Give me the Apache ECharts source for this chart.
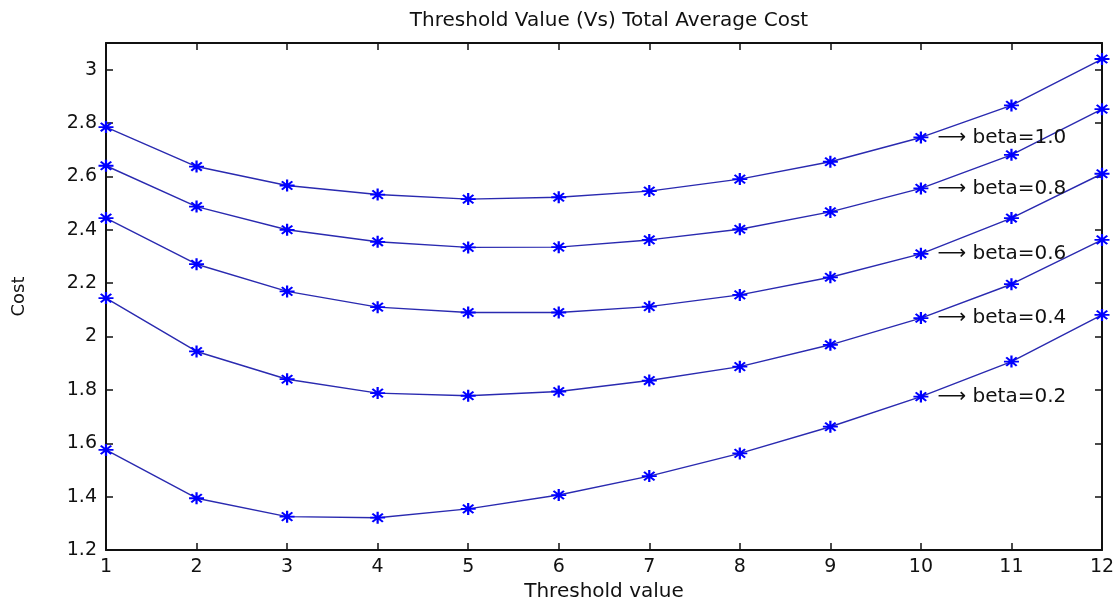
<!DOCTYPE html>
<html>
<head>
<meta charset="utf-8">
<script src="https://cdn.jsdelivr.net/npm/echarts@6/dist/echarts.min.js"></script>
<style>
html,body{margin:0;padding:0;background:#fff;overflow:hidden;}
#chart{width:1116px;height:604px;}
</style>
</head>
<body>
<div id="chart"></div>
<script>
// Data
const thresholds = [1, 2, 3, 4, 5, 6, 7, 8, 9, 10, 11, 12];
const beta10 = [2.785, 2.637, 2.566, 2.532, 2.515, 2.522, 2.545, 2.590, 2.655, 2.746, 2.866, 3.040];
const beta08 = [2.640, 2.487, 2.400, 2.355, 2.334, 2.335, 2.362, 2.402, 2.467, 2.555, 2.681, 2.852];
const beta06 = [2.444, 2.271, 2.169, 2.110, 2.090, 2.090, 2.112, 2.156, 2.222, 2.310, 2.444, 2.610];
const beta04 = [2.144, 1.944, 1.840, 1.788, 1.778, 1.794, 1.835, 1.887, 1.969, 2.069, 2.196, 2.362];
const beta02 = [1.575, 1.394, 1.325, 1.321, 1.354, 1.406, 1.477, 1.562, 1.662, 1.775, 1.906, 2.081];
const seriesNames = ['beta=1.0', 'beta=0.8', 'beta=0.6', 'beta=0.4', 'beta=0.2'];
const seriesValues = [beta10, beta08, beta06, beta04, beta02];
const labelIndex = 9; // annotation attached at threshold 10
const titleText = 'Threshold Value (Vs) Total Average Cost';
const xName = 'Threshold value';
const yName = 'Cost';

const FONT = '"DejaVu Sans", Verdana, sans-serif';
const star = 'path://M0,-10L0,10M-10,0L10,0M-7,-7L7,7M-7,7L7,-7';

const series = seriesValues.map((vals, si) => ({
  type: 'line',
  name: seriesNames[si],
  xAxisIndex: 0,
  yAxisIndex: 0,
  symbol: star,
  symbolSize: [15, 12],
  showAllSymbol: true,
  itemStyle: {color: '#0000ff', borderColor: '#0000ff', borderWidth: 2},
  lineStyle: {color: '#2a2ab0', width: 1.4},
  emphasis: {disabled: true},
  z: 3,
  data: vals.map((v, i) => {
    const item = {value: [thresholds[i], v]};
    if (i === labelIndex) {
      item.label = {
        show: true, position: 'right', distance: 8,
        formatter: '\u27F6 ' + seriesNames[si],
        color: '#111', fontFamily: FONT, fontSize: 20
      };
    }
    return item;
  })
}));

const chart = echarts.init(document.getElementById('chart'), null, {renderer: 'canvas'});
const axisLine = {show: true, lineStyle: {color: '#111', width: 2}};
const tick = {show: true, inside: true, length: 7, lineStyle: {color: '#111', width: 1.5}};
chart.setOption({
  animation: false,
  backgroundColor: '#fff',
  title: {
    text: titleText, left: 604, top: 6, textAlign: 'center',
    textStyle: {fontFamily: FONT, fontSize: 20, fontWeight: 'normal', color: '#111'}
  },
  grid: {left: 106, right: 14, top: 43, bottom: 54, containLabel: false, outerBoundsMode: 'none'},
  xAxis: [{
    type: 'value', min: 1, max: 12, interval: 1, position: 'bottom',
    name: xName, nameLocation: 'middle', nameGap: 30,
    nameTextStyle: {fontFamily: FONT, fontSize: 20, color: '#111'},
    axisLine, axisTick: tick, splitLine: {show: false},
    axisLabel: {fontFamily: FONT, fontSize: 19, color: '#111', margin: 8}
  }, {
    type: 'value', min: 1, max: 12, interval: 1, position: 'top',
    axisLine, axisTick: tick, splitLine: {show: false}, axisLabel: {show: false}
  }],
  yAxis: [{
    type: 'value', min: 1.2, max: 3.1, interval: 0.2, position: 'left',
    name: yName, nameLocation: 'middle', nameGap: 78, nameRotate: 90,
    nameTextStyle: {fontFamily: FONT, fontSize: 18, color: '#111'},
    axisLine, axisTick: tick, splitLine: {show: false},
    axisLabel: {fontFamily: FONT, fontSize: 19, color: '#111', margin: 9, showMaxLabel: false,
      formatter: v => (Math.abs(v - 3.1) < 1e-6 ? '' : String(+v.toFixed(1)))}
  }, {
    type: 'value', min: 1.2, max: 3.1, interval: 0.2, position: 'right',
    axisLine, axisTick: tick, splitLine: {show: false}, axisLabel: {show: false}
  }],
  series
});
</script>
</body>
</html>
